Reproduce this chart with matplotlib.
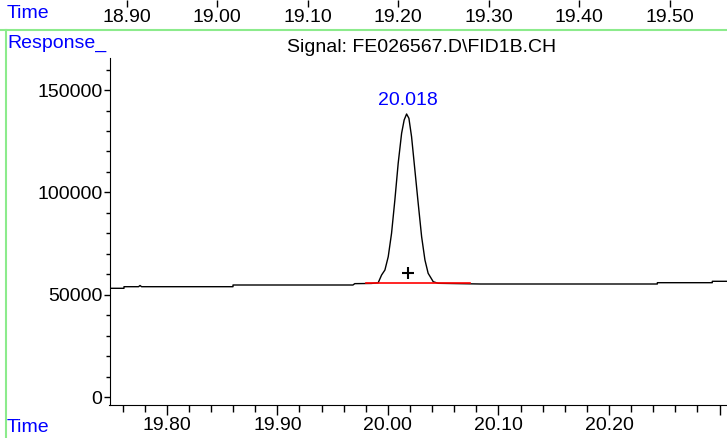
import matplotlib.pyplot as plt
from matplotlib.lines import Line2D
from matplotlib.ticker import MultipleLocator, FuncFormatter

plt.rcParams['font.family'] = ['Liberation Sans', 'DejaVu Sans']

# overview time scale shown at the top
top_ticks = [18.90, 19.00, 19.10, 19.20, 19.30, 19.40, 19.50]

# signal trace (time in min, response counts)
time = [19.748, 19.7613, 19.7613, 19.7745, 19.7758, 19.7772, 19.8599, 19.8599,
        19.9684, 19.9700, 19.9850, 19.9912, 19.9943, 19.9973, 20.0003, 20.0033,
        20.0063, 20.0093, 20.0124, 20.0147, 20.0169, 20.0190, 20.0214, 20.0244,
        20.0274, 20.0305, 20.0335, 20.0364, 20.0410, 20.0455, 20.0837, 20.2437,
        20.2437, 20.2934, 20.2934, 20.316]
response = [53130, 53130, 53910, 53910, 54500, 53910, 53910, 54740,
            54740, 55400, 55500, 55820, 59630, 62070, 68570, 80010,
            96290, 114220, 128890, 135390, 138320, 136220, 127230, 110950,
            94670, 78350, 66960, 60460, 56350, 55570, 55230, 55230,
            55870, 55870, 56550, 56550]

# integration baseline and peak marker
base_time = [19.9806, 20.0743]
base_resp = [55570, 55570]
peak_rt = 20.018
peak_mark = 60750
peak_label = 144700

W, H = 727, 438
fig = plt.figure(figsize=(W / 100, H / 100), dpi=100)

ax = fig.add_axes([109.5 / W, 33 / H, (W - 109.5) / W, (405 - 58) / H])
ax.plot(time, response, color='black', lw=1)
ax.plot(base_time, base_resp, color='red', lw=1.2)
ax.plot([peak_rt], [peak_mark], marker='+', color='black', ms=9, mew=1.5)
ax.text(peak_rt, peak_label, '20.018', color='blue', fontsize=14,
        ha='center', va='center')

ax.set_xlim(19.7482, 20.3067)
ax.set_ylim(-3910, 165690)
ax.xaxis.set_major_locator(MultipleLocator(0.1))
ax.xaxis.set_minor_locator(MultipleLocator(0.02))
# the last label would be cut by the edge, so it is left out
ax.xaxis.set_major_formatter(FuncFormatter(lambda v, p: '%.2f' % v if v < 20.25 else ''))
ax.yaxis.set_major_locator(MultipleLocator(50000))
ax.yaxis.set_minor_locator(MultipleLocator(10000))
ax.spines['top'].set_visible(False)
ax.spines['right'].set_visible(False)
ax.tick_params(axis='both', which='major', labelsize=14, length=7, width=1)
ax.tick_params(axis='both', which='minor', length=5, width=1)
ax.tick_params(axis='y', which='major', length=4, pad=1)
ax.tick_params(axis='y', which='minor', length=3)
ax.tick_params(axis='x', pad=2)

# top time axis
axt = fig.add_axes([0, 1 - 0.0005, 1, 0.0005])
axt.set_xlim(18.76, 19.563)
axt.set_xticks(top_ticks)
axt.xaxis.set_major_formatter(FuncFormatter(lambda v, p: '%.2f' % v))
axt.set_yticks([])
for s in axt.spines.values():
    s.set_visible(False)
axt.tick_params(axis='x', length=5, width=1, labelsize=14, pad=1)
axt.patch.set_visible(False)

# frame lines and labels
green = '#8CEB8C'
fig.add_artist(Line2D([0, 1], [1 - 30 / H] * 2, color=green, lw=1.5))
fig.add_artist(Line2D([6 / W] * 2, [0, 1 - 30 / H], color=green, lw=1.5))
fig.text(7 / W, 1 - 14 / H, 'Time', color='blue', fontsize=14, va='center')
fig.text(7 / W, 1 - 43 / H, 'Response_', color='blue', fontsize=14, va='center')
fig.text(7 / W, 1 - 428 / H, 'Time', color='blue', fontsize=14, va='center')
fig.text(422 / W, 1 - 47 / H, 'Signal: FE026567.D\\FID1B.CH', fontsize=14,
         ha='center', va='center')

fig.savefig('out.png', dpi=100)
